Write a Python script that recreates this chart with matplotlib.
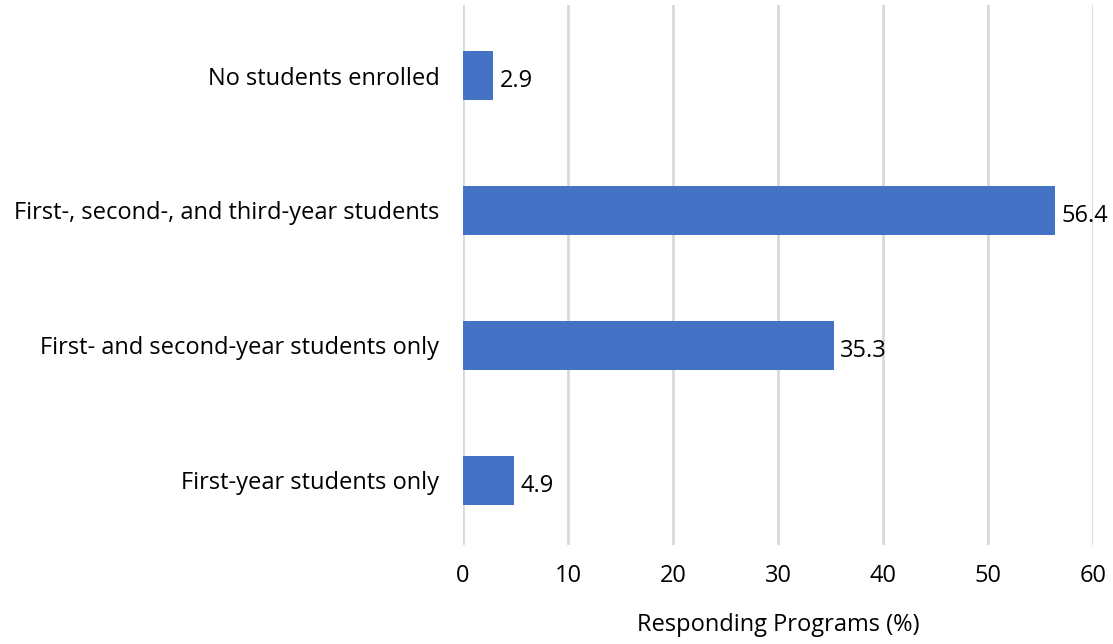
import matplotlib.pyplot as plt

categories = ['First-year students only', 'First- and second-year students only',
              'First-, second-, and third-year students', 'No students enrolled']
values = [4.9, 35.3, 56.4, 2.9]
ticks = [0, 10, 20, 30, 40, 50, 60]

plt.rcParams['font.family'] = ['Open Sans', 'DejaVu Sans']
fs = 17

fig = plt.figure(figsize=(11.13, 6.44), dpi=100)
ax = fig.add_axes([0.416, 0.154, 0.566, 0.838])

ax.barh(range(len(categories)), values, height=0.36, color='#4472C4', zorder=3)
for i, v in enumerate(values):
    ax.text(v + 0.6, i - 0.04, f'{v:.1f}', va='center', ha='left', fontsize=fs, color='black')

ax.set_xlim(0, 60)
ax.set_ylim(-0.478, 3.522)
ax.set_xticks(ticks)
ax.set_yticks(range(len(categories)))
ax.set_yticklabels(categories)
ax.tick_params(axis='both', length=0, labelsize=fs)
ax.tick_params(axis='y', pad=17)
ax.tick_params(axis='x', pad=14)
ax.grid(axis='x', color='#d9d9d9', linewidth=2, zorder=0)
for s in ax.spines.values():
    s.set_visible(False)
ax.set_xlabel('Responding Programs (%)', fontsize=fs, labelpad=18)

fig.savefig('out.png', dpi=100)
